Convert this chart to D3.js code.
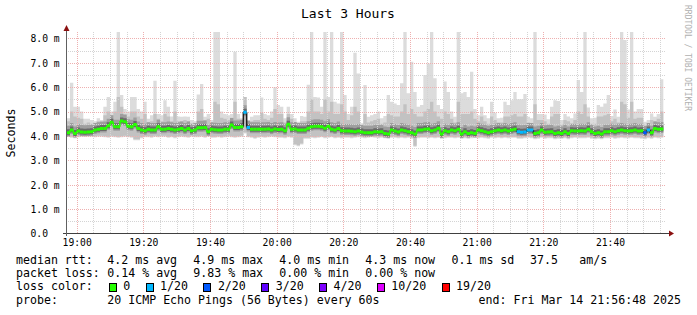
<!DOCTYPE html>
<html>
<head>
<meta charset="utf-8">
<script src="https://cdn.jsdelivr.net/npm/d3@7"></script>
<style>
  body { margin: 0; background: #fff; }
  svg { display: block; }
  text { font-family: 'DejaVu Sans Mono', monospace; }
</style>
</head>
<body>
<div id="chart"></div>
<script>
// smokeping values, one entry per minute (ms)
var median = [
  4.13,4.13,4.24,4.10,4.20,4.16,4.15,4.16,4.17,4.24,
  4.27,4.30,4.30,4.42,4.56,4.38,4.38,4.61,4.58,4.40,
  4.38,4.47,4.30,4.24,4.21,4.27,4.24,4.24,4.38,4.27,
  4.27,4.30,4.27,4.24,4.27,4.30,4.24,4.30,4.21,4.24,
  4.34,4.34,4.35,4.17,4.27,4.25,4.24,4.24,4.27,4.27,
  4.45,4.35,4.35,4.38,4.97,4.35,4.27,4.27,4.27,4.27,
  4.27,4.28,4.24,4.28,4.26,4.27,4.21,4.48,4.27,4.28,
  4.24,4.24,4.24,4.31,4.38,4.40,4.40,4.38,4.31,4.40,
  4.27,4.24,4.30,4.21,4.20,4.20,4.19,4.17,4.20,4.16,
  4.13,4.13,4.13,4.17,4.16,4.17,4.10,4.08,4.24,4.20,
  4.16,4.24,4.21,4.17,4.13,4.08,4.24,4.24,4.27,4.28,
  4.21,4.24,4.31,4.08,4.21,4.17,4.24,4.21,4.27,4.08,
  4.17,4.10,4.13,4.10,4.24,4.21,4.17,4.13,4.17,4.21,
  4.24,4.21,4.24,4.20,4.24,4.27,4.17,4.15,4.16,4.24,
  4.24,4.10,4.13,4.24,4.15,4.16,4.17,4.10,4.13,4.10,
  4.17,4.10,4.21,4.20,4.20,4.21,4.20,4.27,4.17,4.10,
  4.13,4.08,4.17,4.17,4.21,4.17,4.21,4.24,4.21,4.20,
  4.21,4.24,4.20,4.21,4.13,4.24,4.13,4.30,4.27,4.28
];
var pingMax = [
  4.72,4.72,6.18,5.20,5.20,5.00,4.70,4.70,4.65,4.60,
  4.72,4.65,5.20,5.60,5.00,5.40,8.30,5.68,5.10,5.00,
  5.60,5.60,5.10,5.00,5.40,4.70,4.85,6.26,4.90,4.85,
  5.46,5.20,4.80,6.26,4.80,4.79,4.80,4.79,4.65,4.60,
  5.70,6.13,4.79,4.90,4.65,8.30,8.30,5.00,4.90,4.85,
  4.90,7.45,4.90,4.72,5.60,4.58,4.79,4.85,4.85,5.58,
  4.90,4.85,5.00,6.00,5.27,5.20,4.72,5.20,4.90,4.72,
  4.58,4.82,4.79,6.10,8.30,5.60,5.58,5.20,8.30,5.60,
  8.30,5.40,5.33,8.30,5.68,4.90,5.20,7.41,6.56,4.52,
  6.09,4.79,4.85,4.90,5.00,4.72,4.82,5.68,5.40,5.33,
  5.27,6.16,8.30,5.75,7.04,5.80,5.20,5.27,6.50,6.97,
  8.30,6.36,5.27,5.10,6.23,5.80,5.00,4.79,8.30,5.75,
  5.80,5.60,6.63,5.10,4.85,5.20,4.85,4.72,5.40,4.95,
  4.72,4.75,5.40,5.27,5.46,5.80,5.50,5.50,5.72,4.79,
  4.72,8.30,4.90,4.90,4.88,4.68,5.20,5.46,5.43,4.65,
  4.90,4.80,4.72,4.92,6.29,5.80,8.30,5.17,4.72,4.75,
  5.27,5.20,5.33,5.68,4.82,5.08,4.79,8.30,7.93,5.08,
  8.30,5.00,5.10,5.10,4.58,4.65,4.92,4.79,4.90,6.32
];
var pingUpper = [
  4.55,4.60,5.00,4.80,4.75,4.70,4.50,4.55,4.50,4.50,
  4.60,4.55,4.85,5.00,4.85,5.00,5.60,5.20,4.90,4.80,
  5.00,5.00,4.80,4.70,4.90,4.55,4.60,4.90,4.70,4.60,
  4.90,4.80,4.60,5.00,4.60,4.60,4.65,4.60,4.50,4.50,
  5.00,5.10,4.65,4.70,4.50,5.40,5.30,4.75,4.70,4.65,
  4.75,5.40,4.70,4.60,5.60,4.45,4.60,4.65,4.65,4.95,
  4.70,4.65,4.75,5.10,4.90,4.90,4.55,4.90,4.70,4.55,
  4.45,4.60,4.60,5.00,5.50,5.00,5.00,4.90,5.50,5.00,
  5.40,4.90,4.90,5.30,5.00,4.65,4.85,5.20,5.00,4.40,
  4.90,4.55,4.60,4.65,4.70,4.50,4.55,4.90,4.85,4.80,
  4.80,5.00,5.30,4.90,5.10,4.90,4.80,4.80,5.00,5.10,
  5.40,5.00,4.80,4.70,5.00,4.90,4.70,4.55,5.40,4.90,
  4.90,4.90,5.00,4.70,4.60,4.80,4.60,4.50,4.80,4.65,
  4.55,4.55,4.80,4.80,4.85,4.90,4.80,4.80,4.90,4.55,
  4.50,5.30,4.65,4.65,4.60,4.50,4.80,4.90,4.90,4.45,
  4.65,4.60,4.50,4.65,5.00,4.90,5.30,4.80,4.50,4.50,
  4.80,4.80,4.85,4.90,4.60,4.70,4.55,5.40,5.30,4.75,
  5.40,4.70,4.75,4.75,4.40,4.45,4.65,4.60,4.70,5.00
];
var pingMin = [
  3.97,3.97,3.92,3.90,3.95,3.97,3.97,3.97,3.97,3.95,
  3.97,3.97,3.95,3.93,3.97,3.95,3.92,3.95,3.97,3.95,
  3.93,3.82,3.82,3.90,3.95,3.95,3.93,3.97,3.95,3.97,
  3.97,3.93,3.95,3.90,3.95,3.97,3.95,3.92,3.97,3.95,
  3.95,3.97,3.93,3.97,3.92,3.93,3.95,3.92,3.95,3.97,
  3.95,3.93,3.95,3.97,4.10,3.95,3.93,3.88,3.92,3.95,
  3.93,3.95,3.97,3.95,3.92,3.93,3.90,3.95,3.92,3.62,
  3.58,3.65,3.88,3.88,3.93,3.90,3.92,3.95,3.90,3.93,
  3.95,3.90,3.92,3.90,3.93,3.92,3.90,3.92,3.95,3.93,
  3.90,3.92,3.95,3.92,3.90,3.93,3.90,3.88,3.93,3.92,
  3.90,3.92,3.90,3.93,3.88,3.56,3.90,3.92,3.93,3.90,
  3.92,3.90,3.93,3.88,3.90,3.92,3.93,3.90,3.92,3.88,
  3.90,3.88,3.90,3.92,3.90,3.93,3.90,3.88,3.92,3.90,
  3.92,3.90,3.93,3.90,3.92,3.92,3.88,3.88,3.90,3.92,
  3.90,3.86,3.88,3.92,3.88,3.90,3.90,3.86,3.88,3.88,
  3.90,3.86,3.90,3.92,3.90,3.90,3.90,3.92,3.88,3.86,
  3.88,3.86,3.90,3.90,3.92,3.88,3.90,3.92,3.90,3.90,
  3.92,3.90,3.90,3.88,3.86,3.90,3.88,3.92,3.90,3.92
];
// [minute index, lost pings out of 20]
var lossEvents = [[54,1],[55,1],[136,1],[137,1],[138,1],[139,1],[140,1],[174,2],[175,1]];

var lossLabels = ["0", "1/20", "2/20", "3/20", "4/20", "10/20", "19/20"];
var lossSteps  = [0, 1, 2, 3, 4, 10, 19];
var lossColors = ["#26ff00", "#00b8ff", "#0059ff", "#5e00ff", "#7e00ff", "#dd00ff", "#ff0000"];

var yTicks = [0, 1, 2, 3, 4, 5, 6, 7, 8];
var yTickLabels = ["0.0", "1.0 m", "2.0 m", "3.0 m", "4.0 m", "5.0 m", "6.0 m", "7.0 m", "8.0 m"];

var rttStats  = ["4.2 ms avg", "4.9 ms max", "4.0 ms min", "4.3 ms now", "0.1 ms sd", "37.5", "am/s"];
var lossStats = ["0.14 % avg", "9.83 % max", "0.00 % min", "0.00 % now"];

var title = "Last 3 Hours";
var startTime = new Date(2025, 2, 14, 18, 56, 48);
var endTime = new Date(2025, 2, 14, 21, 56, 48);
var firstStep = new Date(2025, 2, 14, 18, 56, 0);

var W = 697, H = 315;
var plotLeft = 66, plotRight = 666, plotTop = 32, plotBottom = 233.5;

var svg = d3.select("#chart").append("svg").attr("width", W).attr("height", H);
svg.append("rect").attr("width", W).attr("height", H).attr("fill", "#fff");

var x = d3.scaleTime().domain([startTime, endTime]).range([plotLeft, plotRight]);
var y = d3.scaleLinear().domain([0, 8.26]).range([plotBottom, plotTop]).clamp(true);

var lossOf = median.map(function() { return 0; });
lossEvents.forEach(function(e) { lossOf[e[0]] = e[1]; });
function lossColor(l) {
  var k = lossSteps.indexOf(l);
  return lossColors[k < 0 ? 0 : k];
}

// step points, last one repeated to close the final minute
var pts = d3.range(median.length + 1).map(function(i) {
  var j = Math.min(i, median.length - 1);
  return { t: d3.timeMinute.offset(firstStep, i), med: median[j], hi: pingMax[j],
           up: pingUpper[j], lo: pingMin[j], loss: lossOf[j] };
});

svg.append("clipPath").attr("id", "plot")
  .append("rect").attr("x", plotLeft).attr("y", plotTop)
  .attr("width", plotRight - plotLeft).attr("height", plotBottom - plotTop);

var smoke = svg.append("g").attr("clip-path", "url(#plot)");
function band(y0, y1, color) {
  smoke.append("path").datum(pts)
    .attr("fill", color)
    .attr("d", d3.area().curve(d3.curveStepAfter)
      .x(function(d) { return x(d.t); }).y0(y0).y1(y1));
}
band(function(d) { return y(d.lo); }, function(d) { return y(d.hi); }, "#dcdcdc");
band(function(d) { return y(d.lo) - 1; }, function(d) { return y(d.up); }, "#c2c2c2");
band(function(d) { return y(d.med) + 4; }, function(d) { return y(d.med) - 7; }, "#9e9e9e");
band(function(d) { return y(d.med) + 2.5; }, function(d) { return y(d.med) - 3.5; }, "#6a6a6a");

// grid
var grid = svg.append("g").attr("shape-rendering", "crispEdges").attr("stroke-dasharray", "1,1");
var yMinor = y.ticks(17).filter(function(v) { return yTicks.indexOf(v) < 0; });
grid.selectAll(".ymin").data(yMinor).join("line")
  .attr("x1", plotLeft).attr("x2", plotRight)
  .attr("y1", function(d) { return Math.round(y(d)) + 0.5; })
  .attr("y2", function(d) { return Math.round(y(d)) + 0.5; })
  .attr("stroke", "#d4d4d4");
var xMinor = d3.timeMinute.every(5).range(startTime, endTime).filter(function(d) { return d.getMinutes() % 20 != 0; });
grid.selectAll(".xmin").data(xMinor).join("line")
  .attr("x1", function(d) { return Math.round(x(d)) + 0.5; })
  .attr("x2", function(d) { return Math.round(x(d)) + 0.5; })
  .attr("y1", plotTop).attr("y2", plotBottom)
  .attr("stroke", "#d4d4d4");
grid.selectAll(".ymaj").data(yTicks.slice(1)).join("line")
  .attr("x1", plotLeft).attr("x2", plotRight)
  .attr("y1", function(d) { return Math.round(y(d)) + 0.5; })
  .attr("y2", function(d) { return Math.round(y(d)) + 0.5; })
  .attr("stroke", "#eeb0b0");
var xMajor = d3.timeMinute.every(20).range(startTime, endTime);
grid.selectAll(".xmaj").data(xMajor).join("line")
  .attr("x1", function(d) { return Math.round(x(d)) + 0.5; })
  .attr("x2", function(d) { return Math.round(x(d)) + 0.5; })
  .attr("y1", plotTop).attr("y2", plotBottom)
  .attr("stroke", "#eeb0b0");

// median, coloured by loss
var medG = svg.append("g").attr("clip-path", "url(#plot)");
var steps = pts.slice(0, median.length);
steps.forEach(function(d, i) {
  var n = steps[i + 1];
  if (!n) return;
  var same = d.loss == 0 && n.loss == 0;
  medG.append("line")
    .attr("x1", x(n.t)).attr("x2", x(n.t))
    .attr("y1", y(d.med)).attr("y2", y(n.med))
    .attr("stroke", same ? lossColors[0] : "#202020")
    .attr("stroke-width", same ? 1.5 : 1.5);
});
medG.selectAll(".med").data(steps).join("line")
  .attr("x1", function(d) { return x(d.t); })
  .attr("x2", function(d) { return x(d3.timeMinute.offset(d.t, 1)); })
  .attr("y1", function(d) { return y(d.med); })
  .attr("y2", function(d) { return y(d.med); })
  .attr("stroke", function(d) { return lossColor(d.loss); })
  .attr("stroke-width", 3);

// axes
var axisColor = "#404040", arrowColor = "#8b1010";
svg.append("line").attr("x1", 63).attr("x2", 670).attr("y1", 233.5).attr("y2", 233.5)
  .attr("stroke", axisColor);
svg.append("line").attr("x1", 66.5).attr("x2", 66.5).attr("y1", 236).attr("y2", 29)
  .attr("stroke", "#606060");
svg.append("path").attr("d", "M669,230.5L674,233.5L669,236.5Z").attr("fill", arrowColor);
svg.append("path").attr("d", "M63.5,31L66.5,25L69.5,31Z").attr("fill", arrowColor);

var xAxis = svg.append("g").attr("transform", "translate(0,236)")
  .call(d3.axisBottom(x).tickValues(xMajor).tickFormat(d3.timeFormat("%H:%M")).tickSize(0).tickPadding(3));
xAxis.select(".domain").remove();
xAxis.selectAll("text").attr("font-size", "9.7px").attr("fill", "#000")
  .style("font-family", "'DejaVu Sans Mono', monospace");

var yAxis = svg.append("g").attr("transform", "translate(66,0)")
  .call(d3.axisLeft(y).tickValues(yTicks).tickFormat(function(d, i) { return yTickLabels[i]; }).tickSize(0));
yAxis.select(".domain").remove();
yAxis.selectAll("text").attr("font-size", "9.7px").attr("fill", "#000")
  .attr("text-anchor", "start").attr("x", -35.5).attr("dy", "0.34em")
  .style("font-family", "'DejaVu Sans Mono', monospace");

// title and labels
svg.append("text").attr("x", 348).attr("y", 18).attr("text-anchor", "middle")
  .attr("font-size", "13px").text(title);
svg.append("text").attr("transform", "translate(15,133) rotate(-90)").attr("text-anchor", "middle")
  .attr("font-size", "11.6px").text("Seconds");
svg.append("text").attr("transform", "translate(684.5,5) rotate(90)")
  .attr("font-size", "8px").attr("fill", "#b0b0b0").text("RRDTOOL / TOBI OETIKER");

// legend
var legend = svg.append("g").attr("font-size", "11.6px").attr("fill", "#000");
var rows = [263.5, 277, 290.3, 303.6];
legend.append("text").attr("x", 16).attr("y", rows[0]).text("median rtt:");
var rttX = [107.3, 193.3, 279.3, 365.3, 451.5, 530, 579.3];
rttStats.forEach(function(s, i) {
  legend.append("text").attr("x", rttX[i]).attr("y", rows[0]).text(s);
});
legend.append("text").attr("x", 16).attr("y", rows[1]).text("packet loss:");
lossStats.forEach(function(s, i) {
  legend.append("text").attr("x", rttX[i]).attr("y", rows[1]).text(s);
});
legend.append("text").attr("x", 16).attr("y", rows[2]).text("loss color:");
var bx = 108.7;
lossLabels.forEach(function(s, i) {
  legend.append("rect").attr("x", Math.round(bx) + 0.5).attr("y", 283.5).attr("width", 7).attr("height", 8)
    .attr("fill", lossColors[i]).attr("stroke", "#000");
  legend.append("text").attr("x", bx + 14.6).attr("y", rows[2]).text(s);
  bx = bx + 14.6 + s.length * 7 + 15.2;
});
legend.append("text").attr("x", 16).attr("y", rows[3]).text("probe:");
legend.append("text").attr("x", 107.3).attr("y", rows[3]).text("20 ICMP Echo Pings (56 Bytes) every 60s");
legend.append("text").attr("x", 681).attr("y", rows[3]).attr("text-anchor", "end")
  .text("end: " + d3.timeFormat("%a %b %d %H:%M:%S %Y")(endTime));
</script>
</body>
</html>
